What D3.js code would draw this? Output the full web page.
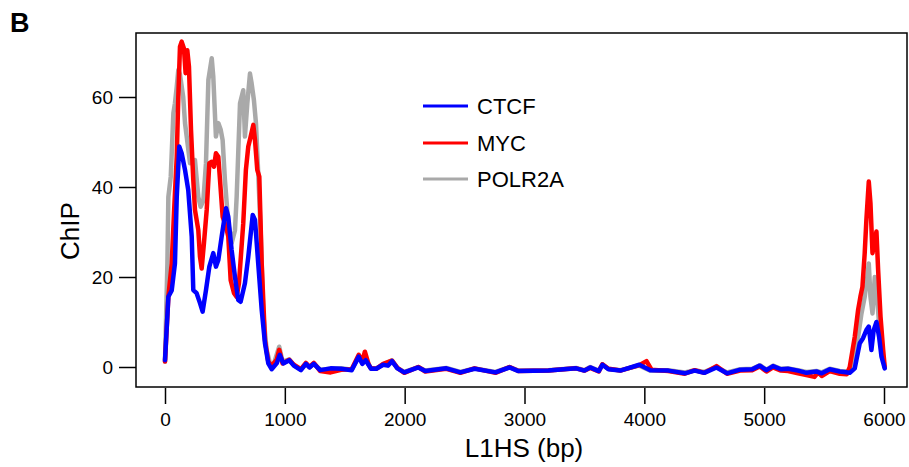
<!DOCTYPE html>
<html>
<head>
<meta charset="utf-8">
<script src="https://cdn.jsdelivr.net/npm/d3@7"></script>
<style>
  html, body { margin: 0; padding: 0; background: #fff; }
  svg { display: block; font-family: "Liberation Sans", Arial, Helvetica, sans-serif; }
</style>
</head>
<body>
<svg id="chart" width="909" height="467"></svg>
<script>
// ---- data (bp, ChIP) ----
const seriesNames = ["CTCF", "MYC", "POLR2A"];
const xTicks = [0, 1000, 2000, 3000, 4000, 5000, 6000];
const yTicks = [0, 20, 40, 60];

const ctcf = [[0,1.5],[28,15.6],[56,17],[83,23],[98,37.8],[119,49],[139,47.5],[167,43.8],[194,39.3],[223,29],[236,17.1],[264,16.4],[292,14.2],[314,12.3],[342,17.1],[370,22.3],[403,25.3],[425,22.3],[445,23.8],[473,29],[509,35.3],[528,33.4],[556,26],[584,20],[611,14.9],[631,14.5],[667,18.6],[695,24.5],[732,33.8],[751,32.7],[778,23],[807,12.7],[834,5.3],[862,0.8],[890,-0.5],[932,0.8],[958,2.7],[987,0.8],[1037,1.5],[1075,0.3],[1134,-0.7],[1176,0.7],[1206,-0.1],[1242,0.7],[1295,-0.7],[1382,-0.3],[1470,-0.4],[1558,-0.7],[1617,2.3],[1646,0.7],[1675,1.5],[1719,-0.4],[1763,-0.4],[1821,0.5],[1860,0.3],[1894,1.3],[1939,-0.3],[1997,-1.2],[2114,-0.1],[2172,-0.9],[2348,-0.3],[2465,-1.2],[2583,-0.4],[2758,-1.2],[2875,-0.1],[2950,-0.9],[3200,-0.8],[3431,-0.3],[3500,-0.8],[3548,-0.1],[3620,-0.9],[3650,0.5],[3700,-0.5],[3800,-0.8],[3958,0.5],[4050,-0.7],[4200,-0.8],[4338,-1.4],[4420,-0.8],[4500,-1.3],[4602,-0.1],[4690,-1.4],[4800,-0.6],[4900,-0.5],[4963,0.3],[5019,-0.7],[5074,0.2],[5140,-0.5],[5200,-0.4],[5283,-0.8],[5353,-1.3],[5436,-1],[5480,-1.4],[5547,-0.5],[5631,-1],[5714,-1.3],[5756,-0.3],[5770,1.6],[5798,5.3],[5825,6.4],[5853,8.2],[5873,9],[5895,3.8],[5914,8.2],[5937,10],[5959,6.7],[5979,2.3],[6006,-0.3]];

const myc = [[0,1.2],[28,15.6],[56,23],[75,34.2],[98,46.7],[111,60],[125,71.2],[139,72.3],[158,70.8],[172,65.3],[186,70.4],[200,66.7],[217,52.7],[236,41.6],[250,34.9],[278,30.4],[292,24.5],[306,21.9],[325,27.5],[348,34.9],[370,45.3],[390,45.6],[409,44.5],[425,47.5],[445,46.7],[459,41.6],[481,33.4],[509,31.2],[528,29],[548,19.3],[576,16.4],[598,15.6],[617,18.6],[653,31.9],[675,43.8],[695,49],[715,51.2],[737,53.8],[751,50.4],[770,43.8],[787,42.3],[807,23],[834,6],[862,1.2],[890,0.3],[932,1.6],[953,3.8],[981,0.8],[1037,1.6],[1075,0.5],[1134,-0.5],[1176,0.9],[1206,0],[1242,0.9],[1295,-0.9],[1382,-1.2],[1470,-0.6],[1558,-0.5],[1617,2.7],[1646,1.2],[1668,3.4],[1700,0.5],[1719,-0.3],[1763,-0.4],[1821,0.7],[1894,1.4],[1939,-0.2],[1997,-1.3],[2114,0],[2172,-1],[2348,-0.4],[2465,-1.3],[2583,-0.3],[2758,-1.3],[2875,0],[2950,-0.9],[3200,-0.8],[3431,-0.3],[3500,-0.8],[3548,-0.2],[3620,-1],[3650,0.6],[3700,-0.4],[3800,-0.8],[3958,0.4],[4018,1.3],[4060,-0.6],[4200,-0.9],[4338,-1.5],[4420,-0.7],[4500,-1.3],[4602,0.2],[4690,-1.5],[4800,-0.8],[4900,-0.7],[4963,0.1],[5019,-1],[5074,-0.1],[5140,-0.8],[5200,-0.9],[5283,-1.4],[5353,-1.8],[5420,-2.2],[5450,-1.2],[5480,-2],[5547,-0.9],[5631,-1.5],[5690,-1.6],[5714,0],[5756,6.7],[5784,12.7],[5803,15.6],[5820,17.8],[5839,25.3],[5853,32.7],[5873,41.2],[5887,36.4],[5904,25.3],[5918,27.5],[5937,30.1],[5951,21.6],[5971,11.2],[5993,3.8],[6006,0]];

const polr2a = [[0,1.2],[20,23],[28,37.8],[48,42.3],[70,56.4],[83,58.6],[98,62.3],[111,66],[125,65],[152,60],[167,54.2],[209,45.3],[250,46],[278,37.8],[297,35.6],[320,37],[342,45.3],[362,63.8],[390,68.6],[403,64.5],[425,51.2],[445,54.2],[465,52.7],[481,50.4],[500,41.6],[528,31.9],[556,27.5],[584,30.4],[598,37.8],[626,58.6],[653,61.5],[667,51.2],[687,58.6],[709,65.2],[723,63],[742,59.3],[759,54.2],[778,43],[798,30.4],[820,11.9],[848,3.8],[876,0.8],[900,0],[953,4.5],[981,1.2],[1037,1.7],[1075,0.4],[1134,-0.6],[1176,0.8],[1206,0],[1242,0.8],[1295,-0.6],[1382,-0.4],[1470,-0.3],[1558,-0.6],[1617,2.5],[1646,0.9],[1675,1.8],[1719,-0.3],[1763,-0.3],[1821,0.6],[1894,1.5],[1939,-0.2],[1997,-1.1],[2114,0],[2172,-0.8],[2348,-0.2],[2465,-1.1],[2583,-0.3],[2758,-1.1],[2875,0],[2950,-0.8],[3200,-0.7],[3431,-0.2],[3500,-0.7],[3548,0],[3620,-0.8],[3650,0.6],[3700,-0.4],[3800,-0.7],[3958,0.3],[4050,-0.8],[4200,-0.7],[4338,-1.2],[4420,-0.7],[4500,-1.1],[4602,0],[4690,-1.2],[4800,-0.5],[4900,-0.4],[4963,0.4],[5019,-0.6],[5074,0.3],[5140,-0.4],[5200,-0.3],[5283,-0.7],[5353,-1.1],[5436,-0.9],[5480,-1.2],[5547,-0.4],[5631,-0.9],[5714,-1],[5742,0.8],[5784,6.7],[5812,11.9],[5839,15.6],[5858,19.3],[5873,23],[5887,15.6],[5904,11.9],[5923,20],[5937,17.1],[5959,9.7],[5979,3.8],[6006,0]];

const colors = { CTCF: "#0000ff", MYC: "#ff0000", POLR2A: "#a9a9a9" };

// ---- layout ----
const svg = d3.select("#chart");
const box = { left: 136, top: 33, right: 907, bottom: 387 };

const x = d3.scaleLinear().domain([0, 6000]).range([165, 884]);
const y = d3.scaleLinear().domain([0, 60]).range([367, 97]);

const line = d3.line().x(d => x(d[0])).y(d => y(d[1])).curve(d3.curveLinear);

svg.append("clipPath").attr("id", "plotclip")
  .append("rect").attr("x", box.left).attr("y", box.top)
  .attr("width", box.right - box.left).attr("height", box.bottom - box.top);

const plot = svg.append("g").attr("clip-path", "url(#plotclip)");
const drawOrder = [["POLR2A", polr2a], ["MYC", myc], ["CTCF", ctcf]];
drawOrder.forEach(([name, data]) => {
  plot.append("path").datum(data)
    .attr("d", line)
    .attr("fill", "none")
    .attr("stroke", colors[name])
    .attr("stroke-width", 4.5)
    .attr("stroke-linejoin", "round")
    .attr("stroke-linecap", "round");
});

// box
svg.append("rect")
  .attr("x", box.left).attr("y", box.top)
  .attr("width", box.right - box.left).attr("height", box.bottom - box.top)
  .attr("fill", "none").attr("stroke", "#000").attr("stroke-width", 1.5);

// y axis
const yAxis = svg.append("g").attr("transform", `translate(${box.left},0)`)
  .call(d3.axisLeft(y).tickValues(yTicks).tickSize(17).tickPadding(6).tickFormat(d3.format("d")));
yAxis.select(".domain").remove();
yAxis.selectAll("line").attr("stroke-width", 1.5);
yAxis.selectAll("text").attr("font-size", 19).attr("font-family", "Liberation Sans, Arial, sans-serif").attr("fill", "#000");

// x axis
const xAxis = svg.append("g").attr("transform", `translate(0,${box.bottom + 1})`)
  .call(d3.axisBottom(x).tickValues(xTicks).tickSize(16).tickPadding(9).tickFormat(d3.format("d")));
xAxis.select(".domain").remove();
xAxis.selectAll("line").attr("stroke-width", 1.5);
xAxis.selectAll("text").attr("font-size", 19).attr("font-family", "Liberation Sans, Arial, sans-serif").attr("fill", "#000");

// titles
svg.append("text").attr("x", 524).attr("y", 457)
  .attr("text-anchor", "middle").attr("font-size", 26).text("L1HS (bp)");
svg.append("text").attr("transform", `translate(79,${231}) rotate(-90)`)
  .attr("text-anchor", "middle").attr("font-size", 26).text("ChIP");
svg.append("text").attr("x", 10).attr("y", 32)
  .attr("font-size", 27).attr("font-weight", "bold").text("B");

// legend
const legendY = [106, 143, 179];
seriesNames.forEach((name, i) => {
  svg.append("line").attr("x1", 423).attr("x2", 468)
    .attr("y1", legendY[i]).attr("y2", legendY[i])
    .attr("stroke", colors[name]).attr("stroke-width", 3);
  svg.append("text").attr("x", 477).attr("y", legendY[i])
    .attr("dominant-baseline", "central").attr("font-size", 22).text(name);
});
</script>
</body>
</html>
